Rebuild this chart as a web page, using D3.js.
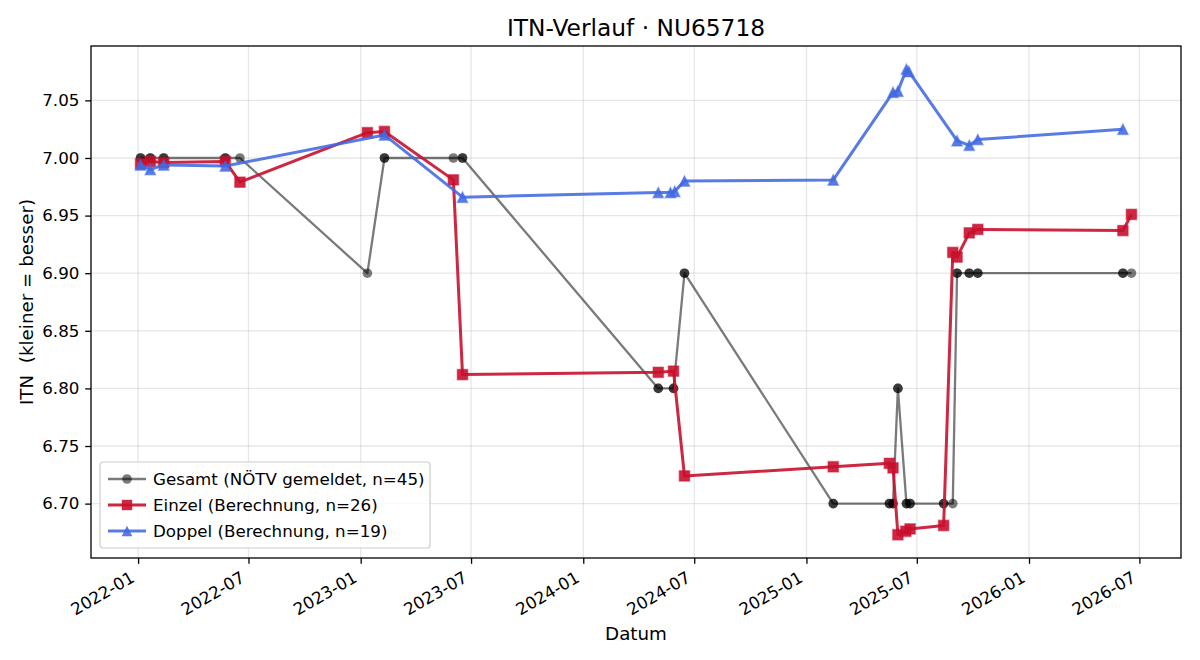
<!DOCTYPE html>
<html>
<head>
<meta charset="utf-8">
<script src="https://cdn.jsdelivr.net/npm/d3@7"></script>
<style>
  body { margin: 0; background: #fff; }
  text { font-family: "DejaVu Sans", sans-serif; fill: #000; }
</style>
</head>
<body>
<script>
// data
var gesamtDates = ["2022-01-05","2022-01-05","2022-01-21","2022-01-21","2022-02-12","2022-02-12",
  "2022-05-24","2022-05-24","2022-06-17","2023-01-12","2023-02-09","2023-02-09","2023-06-02",
  "2023-06-17","2023-06-17","2024-05-03","2024-05-03","2024-05-28","2024-05-28","2024-06-15",
  "2024-06-15","2025-02-14","2025-02-14","2025-05-17","2025-05-17","2025-05-23","2025-05-23",
  "2025-05-31","2025-05-31","2025-06-14","2025-06-14","2025-06-20","2025-06-20","2025-08-14",
  "2025-08-14","2025-08-29","2025-09-05","2025-09-05","2025-09-25","2025-09-25","2025-10-09",
  "2025-10-09","2026-06-04","2026-06-04","2026-06-18"];
var gesamtValues = [7.00,7.00,7.00,7.00,7.00,7.00,
  7.00,7.00,7.00,6.90,7.00,7.00,7.00,
  7.00,7.00,6.80,6.80,6.80,6.80,6.90,
  6.90,6.70,6.70,6.70,6.70,6.70,6.70,
  6.80,6.80,6.70,6.70,6.70,6.70,6.70,
  6.70,6.70,6.90,6.90,6.90,6.90,6.90,
  6.90,6.90,6.90,6.90];

var einzelDates = ["2022-01-05","2022-01-21","2022-02-12","2022-05-24","2022-06-17","2023-01-12",
  "2023-02-09","2023-06-02","2023-06-17","2024-05-03","2024-05-28","2024-06-15","2025-02-14",
  "2025-05-17","2025-05-23","2025-05-31","2025-06-13","2025-06-20","2025-08-14","2025-08-29",
  "2025-09-05","2025-09-25","2025-10-09","2026-06-04","2026-06-18"];
var einzelValues = [6.995,6.997,6.996,6.997,6.979,7.022,
  7.023,6.981,6.812,6.814,6.815,6.724,6.732,
  6.735,6.731,6.673,6.676,6.678,6.681,6.918,
  6.914,6.935,6.938,6.937,6.951];

var doppelDates = ["2022-01-05","2022-01-21","2022-02-12","2022-05-24","2023-02-09","2023-06-17",
  "2024-05-03","2024-05-23","2024-05-30","2024-06-15","2025-02-14","2025-05-23","2025-05-31",
  "2025-06-14","2025-06-18","2025-09-05","2025-09-25","2025-10-09","2026-06-04"];
var doppelValues = [6.994,6.990,6.994,6.993,7.020,6.966,
  6.970,6.970,6.971,6.980,6.981,7.057,7.058,
  7.077,7.075,7.015,7.011,7.016,7.025];

var seriesNames = ["Gesamt (NÖTV gemeldet, n=45)", "Einzel (Berechnung, n=26)", "Doppel (Berechnung, n=19)"];

// set the dimensions and margins of the graph
var W = 1200, H = 660;
var margin = {top: 46, right: 19, bottom: 102, left: 91},
  width = W - margin.left - margin.right,
  height = H - margin.top - margin.bottom;

var parseDate = d3.timeParse("%Y-%m-%d");
function zip(ds, vs) { return ds.map(function(d, i) { return {date: parseDate(d), value: vs[i]}; }); }

var series = [
  {name: seriesNames[0], data: zip(gesamtDates, gesamtValues), color: "#000000", op: 0.52, lw: 2.3, marker: "circle", ms: 9.6},
  {name: seriesNames[1], data: zip(einzelDates, einzelValues), color: "#c8102e", op: 0.9, lw: 3.0, marker: "square", ms: 10.4},
  {name: seriesNames[2], data: zip(doppelDates, doppelValues), color: "#4169e1", op: 0.88, lw: 3.0, marker: "triangle", ms: 10.6}
];

var all = [].concat(series[0].data, series[1].data, series[2].data);
var xExt = d3.extent(all, function(d) { return d.date; });
var xPad = (xExt[1] - xExt[0]) * 0.05;
var yExt = d3.extent(all, function(d) { return d.value; });
var yPad = (yExt[1] - yExt[0]) * 0.05;

var x = d3.scaleTime()
  .domain([new Date(+xExt[0] - xPad), new Date(+xExt[1] + xPad)])
  .range([0, width]);
var y = d3.scaleLinear()
  .domain([yExt[0] - yPad, yExt[1] + yPad])
  .range([height, 0]);

var xTicks = d3.timeMonth.range(new Date(2022, 0, 1), new Date(2026, 7, 1), 6);
var yTicks = y.ticks(8);

var svg = d3.select("body").append("svg")
  .attr("width", W)
  .attr("height", H);

var g = svg.append("g")
  .attr("transform", "translate(" + margin.left + "," + margin.top + ")");

// grid
g.append("g").selectAll("line").data(xTicks).enter().append("line")
  .attr("x1", function(d) { return x(d); }).attr("x2", function(d) { return x(d); })
  .attr("y1", 0).attr("y2", height)
  .attr("stroke", "#b0b0b0").attr("stroke-opacity", 0.3).attr("stroke-width", 1.3);
g.append("g").selectAll("line").data(yTicks).enter().append("line")
  .attr("y1", function(d) { return y(d); }).attr("y2", function(d) { return y(d); })
  .attr("x1", 0).attr("x2", width)
  .attr("stroke", "#b0b0b0").attr("stroke-opacity", 0.3).attr("stroke-width", 1.3);

// marker shapes
function markerPath(type, s) {
  var h = s / 2;
  if (type === "square") return "M" + (-h) + "," + (-h) + "H" + h + "V" + h + "H" + (-h) + "Z";
  if (type === "triangle") return "M0," + (-h) + "L" + h + "," + h + "L" + (-h) + "," + h + "Z";
  return "M" + h + ",0A" + h + "," + h + " 0 1,1 " + (-h) + ",0A" + h + "," + h + " 0 1,1 " + h + ",0Z";
}

var line = d3.line()
  .x(function(d) { return x(d.date); })
  .y(function(d) { return y(d.value); });

series.forEach(function(s) {
  var sg = g.append("g");
  sg.append("path")
    .datum(s.data)
    .attr("d", line)
    .attr("fill", "none")
    .attr("stroke", s.color)
    .attr("stroke-opacity", s.op)
    .attr("stroke-width", s.lw)
    .attr("stroke-linejoin", "round");
  sg.selectAll("path.m").data(s.data).enter().append("path")
    .attr("class", "m")
    .attr("d", markerPath(s.marker, s.ms))
    .attr("transform", function(d) { return "translate(" + x(d.date) + "," + y(d.value) + ")"; })
    .attr("fill", s.color)
    .attr("fill-opacity", s.op)
    .attr("stroke", s.color)
    .attr("stroke-opacity", s.marker === "circle" ? 0 : s.op * 0.5)
    .attr("stroke-width", 1.4);
});

// axes
var xAxis = g.append("g")
  .attr("transform", "translate(0," + height + ")")
  .call(d3.axisBottom(x).tickValues(xTicks).tickFormat(d3.timeFormat("%Y-%m")).tickSize(5.8).tickPadding(5.8));
xAxis.select(".domain").remove();
xAxis.selectAll("line").attr("stroke-width", 1.3);
xAxis.selectAll("text")
  .attr("font-size", "16.7px")
  .attr("font-family", "DejaVu Sans")
  .attr("text-anchor", "end")
  .attr("dy", null)
  .attr("y", null)
  .attr("transform", "translate(-3,23) rotate(-30)");

var yAxis = g.append("g")
  .call(d3.axisLeft(y).tickValues(yTicks).tickFormat(d3.format(".2f")).tickSize(5.8).tickPadding(5.8));
yAxis.select(".domain").remove();
yAxis.selectAll("line").attr("stroke-width", 1.3);
yAxis.selectAll("text").attr("font-size", "16.7px").attr("font-family", "DejaVu Sans");

// frame
g.append("rect")
  .attr("width", width).attr("height", height)
  .attr("fill", "none").attr("stroke", "#000").attr("stroke-width", 1.3);

// titles
svg.append("text")
  .attr("x", margin.left + width / 2).attr("y", 36)
  .attr("text-anchor", "middle").attr("font-size", "23.3px")
  .text("ITN-Verlauf · NU65718");
svg.append("text")
  .attr("x", margin.left + width / 2).attr("y", 640)
  .attr("text-anchor", "middle").attr("font-size", "18.3px")
  .text("Datum");
svg.append("text")
  .attr("transform", "translate(33," + (margin.top + height / 2) + ") rotate(-90)")
  .attr("text-anchor", "middle").attr("font-size", "18.3px")
  .attr("xml:space", "preserve")
  .style("white-space", "pre")
  .text("ITN  (kleiner = besser)");

// legend
var lg = svg.append("g").attr("transform", "translate(100,462)");
lg.append("rect")
  .attr("width", 330).attr("height", 86).attr("rx", 3)
  .attr("fill", "#fff").attr("fill-opacity", 0.8)
  .attr("stroke", "#cccccc").attr("stroke-width", 1.2);
series.forEach(function(s, i) {
  var cy = 17 + i * 26;
  lg.append("line")
    .attr("x1", 8).attr("x2", 46).attr("y1", cy).attr("y2", cy)
    .attr("stroke", s.color).attr("stroke-opacity", s.op).attr("stroke-width", s.lw);
  lg.append("path")
    .attr("d", markerPath(s.marker, s.ms))
    .attr("transform", "translate(27," + cy + ")")
    .attr("fill", s.color).attr("fill-opacity", s.op);
  lg.append("text")
    .attr("x", 53).attr("y", cy).attr("dy", "0.35em")
    .attr("font-size", "16.7px")
    .text(s.name);
});
</script>
</body>
</html>
